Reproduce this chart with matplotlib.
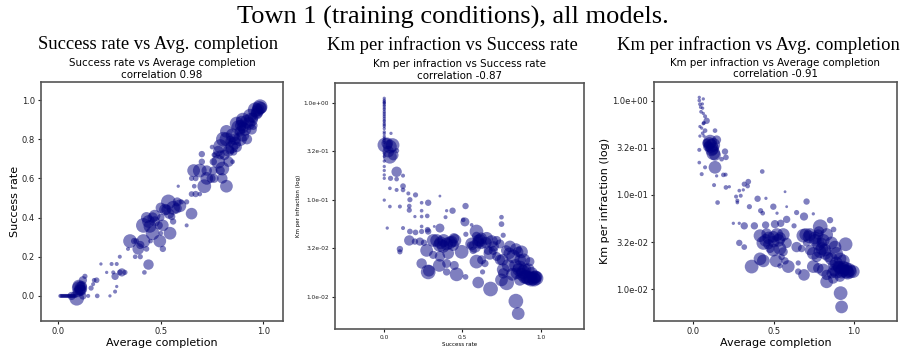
import numpy as np
import matplotlib
matplotlib.use("Agg")
import matplotlib.pyplot as plt
from matplotlib.ticker import FixedLocator, NullLocator


MAIN_TITLE = "Town 1 (training conditions), all models."
PANEL_TITLES = [
    "Success rate vs Avg. completion",
    "Km per infraction vs Success rate",
    "Km per infraction vs Avg. completion",
]
INNER_TITLES = [
    "Success rate vs Average completion\ncorrelation 0.98",
    "Km per infraction vs Success rate\ncorrelation -0.87",
    "Km per infraction vs Average completion\ncorrelation -0.91",
]

# panel 1: average completion vs success rate
p1_completion = [
    0.01, 0.02, 0.03, 0.04, 0.05, 0.06, 0.07, 0.08,
    0.015, 0.025, 0.035, 0.045, 0.055, 0.065, 0.075, 0.085,
    0.09, 0.10, 0.11, 0.105, 0.115, 0.065, 0.12, 0.13,
    0.10, 0.11, 0.095,
    0.12, 0.146, 0.16, 0.187, 0.175, 0.19, 0.17,
    0.208, 0.236, 0.26, 0.285, 0.268, 0.277, 0.30, 0.31, 0.325, 0.277, 0.252, 0.285, 0.30, 0.34,
    0.35, 0.37, 0.38, 0.39, 0.40, 0.375, 0.40, 0.43, 0.44, 0.42, 0.415, 0.45, 0.495, 0.51, 0.50,
    0.415, 0.43, 0.46, 0.47, 0.447, 0.46, 0.49, 0.51, 0.50, 0.545, 0.537, 0.528, 0.56, 0.577,
    0.52, 0.54, 0.50, 0.47, 0.44, 0.58,
    0.593, 0.553, 0.56, 0.60, 0.626, 0.65, 0.626, 0.585, 0.663, 0.65, 0.67, 0.69, 0.712,
    0.65, 0.67, 0.66, 0.69, 0.70, 0.70, 0.724, 0.724, 0.745, 0.76, 0.756, 0.79, 0.82, 0.80,
    0.78, 0.80, 0.83, 0.85, 0.756, 0.75, 0.77, 0.79, 0.79, 0.805, 0.82, 0.84, 0.846, 0.87,
    0.862, 0.886, 0.886, 0.92, 0.87, 0.894, 0.92, 0.935, 0.95, 0.91, 0.943, 0.967, 0.984,
    0.975, 0.95, 0.837, 0.855, 0.76, 0.90,
    0.82, 0.85, 0.88, 0.90, 0.93, 0.96, 0.98, 0.97, 0.94, 0.90, 0.86, 0.83, 0.81, 0.78,
    0.89, 0.99,
]
p1_success = [
    0.0, 0.0, 0.0, 0.0, 0.0, 0.0, 0.0, 0.0,
    0.0, 0.0, 0.0, 0.0, 0.0, 0.0, 0.0, 0.0,
    -0.012, 0.04, 0.04, 0.03, 0.05, 0.0, 0.08, 0.10,
    0.05, 0.03, 0.02,
    0.0, 0.0, 0.04, 0.08, 0.08, 0.0, 0.06,
    0.163, 0.12, 0.163, 0.163, 0.12, 0.10, 0.12, 0.12, 0.12, 0.022, 0.0, 0.048, 0.20, 0.24,
    0.28, 0.28, 0.28, 0.24, 0.26, 0.20, 0.20, 0.24, 0.16, 0.12, 0.28, 0.28, 0.28, 0.24, 0.32,
    0.36, 0.40, 0.40, 0.41, 0.355, 0.32, 0.36, 0.36, 0.40, 0.32, 0.48, 0.44, 0.45, 0.447,
    0.44, 0.42, 0.45, 0.38, 0.38, 0.48,
    0.46, 0.405, 0.38, 0.48, 0.48, 0.42, 0.36, 0.56, 0.56, 0.52, 0.52, 0.52, 0.56,
    0.60, 0.60, 0.64, 0.64, 0.685, 0.724, 0.64, 0.60, 0.60, 0.60, 0.64, 0.64, 0.56, 0.60,
    0.685, 0.65, 0.685, 0.685, 0.685, 0.76, 0.72, 0.72, 0.765, 0.80, 0.84, 0.79, 0.76, 0.76,
    0.80, 0.80, 0.84, 0.80, 0.88, 0.89, 0.89, 0.92, 0.91, 0.85, 0.85, 0.93, 0.966,
    0.95, 0.87, 0.745, 0.735, 0.72, 0.86,
    0.80, 0.82, 0.86, 0.90, 0.88, 0.95, 0.96, 0.94, 0.90, 0.82, 0.78, 0.74, 0.72, 0.74,
    0.87, 0.96,
]
p1_size = [
    6, 6, 6, 6, 6, 6, 6, 6,
    6, 6, 6, 6, 6, 6, 6, 6,
    80, 70, 60, 50, 40, 25, 25, 10,
    60, 50, 40,
    20, 6, 10, 12, 8, 8, 6,
    4, 4, 6, 6, 6, 20, 12, 25, 10, 6, 4, 4, 6, 6,
    70, 15, 12, 50, 25, 8, 10, 12, 40, 8, 70, 8, 60, 15, 8,
    80, 45, 40, 50, 60, 70, 25, 50, 20, 60, 80, 40, 70, 40,
    50, 40, 40, 40, 60, 30,
    60, 20, 15, 10, 10, 50, 6, 4, 8, 12, 15, 8, 70,
    10, 12, 60, 70, 15, 15, 40, 60, 30, 30, 25, 30, 60, 40,
    70, 70, 40, 8, 20, 8, 20, 30, 70, 80, 60, 40, 60, 40,
    50, 70, 40, 40, 70, 50, 70, 70, 40, 60, 40, 50, 80,
    60, 30, 30, 20, 10, 50,
    70, 70, 80, 70, 60, 80, 70, 60, 70, 60, 60, 50, 40, 40,
    50, 50,
]

# panel 2: success rate vs km per infraction
p2_success = [
    0.0, 0.0, 0.0, 0.0, 0.0, 0.0, 0.0, 0.0, 0.0, 0.0, 0.0,
    0.0, 0.0, 0.0, 0.0, 0.0, 0.0, 0.0, 0.0, 0.0, 0.0, 0.0,
    0.0, 0.0, 0.0, 0.0, 0.0, 0.0, 0.0, 0.0, 0.0, 0.0, 0.0, 0.0,
    0.004, 0.019, 0.036, 0.053, 0.026, 0.036, 0.058, 0.079, 0.043, 0.079, 0.04, 0.079,
    0.12, 0.036, 0.079, 0.12, 0.12, 0.154, 0.20, 0.10, 0.036, 0.16, 0.16, 0.164,
    0.239, 0.239, 0.281, 0.275, 0.239, 0.196, 0.356, 0.437, 0.399, 0.392, 0.52, 0.505,
    0.516, 0.559, 0.75, 0.75, 0.019, 0.12, 0.164, 0.239, 0.277, 0.32, 0.356, 0.20,
    0.239, 0.281, 0.522, 0.59, 0.59, 0.601, 0.761, 0.16, 0.196, 0.228, 0.254, 0.271,
    0.313, 0.335, 0.356, 0.377, 0.399, 0.431, 0.452, 0.409, 0.495, 0.446, 0.559, 0.58,
    0.612, 0.623, 0.655, 0.687, 0.719, 0.74, 0.665, 0.676, 0.59, 0.623, 0.644, 0.552,
    0.569, 0.239, 0.281, 0.285, 0.352, 0.399, 0.399, 0.448, 0.463, 0.52, 0.356, 0.313,
    0.10, 0.10, 0.629, 0.601, 0.68, 0.761, 0.783, 0.757, 0.793, 0.804, 0.842, 0.825,
    0.857, 0.878, 0.893, 0.868, 0.889, 0.91, 0.932, 0.953, 0.974, 0.964, 0.942, 0.921,
    0.846, 0.868, 0.932, 0.74, 0.719, 0.697, 0.75, 0.842, 0.857, 0.761,
    0.90, 0.92, 0.94, 0.96, 0.97, 0.88, 0.86, 0.90, 0.84, 0.82, 0.87, 0.80, 0.78,
    0.60, 0.62, 0.65, 0.70, 0.36, 0.38, 0.42, 0.44,
]
p2_km = [
    1.11, 1.06, 1.0, 0.95, 0.88, 0.81, 0.78, 0.75, 0.69, 0.64, 0.61,
    0.59, 0.54, 0.48, 0.45, 0.41, 0.25, 0.22, 0.20, 0.18, 0.166, 0.099,
    1.03, 0.99, 0.92, 0.85, 0.72, 0.66, 0.57, 0.50, 0.43, 0.39, 0.30, 0.28,
    0.366, 0.381, 0.352, 0.366, 0.313, 0.277, 0.288, 0.32, 0.483, 0.194, 0.166, 0.163,
    0.177, 0.131, 0.126, 0.138, 0.126, 0.116, 0.112, 0.085, 0.085, 0.086, 0.078, 0.10,
    0.093, 0.077, 0.093, 0.068, 0.067, 0.067, 0.109, 0.077, 0.077, 0.066, 0.086, 0.062,
    0.059, 0.055, 0.066, 0.056, 0.051, 0.051, 0.047, 0.053, 0.049, 0.053, 0.051, 0.046,
    0.047, 0.047, 0.044, 0.047, 0.042, 0.038, 0.043, 0.038, 0.037, 0.037, 0.036, 0.030,
    0.038, 0.038, 0.034, 0.033, 0.035, 0.037, 0.038, 0.028, 0.029, 0.040, 0.035, 0.033,
    0.038, 0.035, 0.040, 0.037, 0.038, 0.035, 0.030, 0.028, 0.023, 0.024, 0.022, 0.034,
    0.030, 0.022, 0.018, 0.0185, 0.021, 0.022, 0.018, 0.021, 0.017, 0.016, 0.026, 0.027,
    0.031, 0.029, 0.018, 0.014, 0.012, 0.019, 0.0139, 0.024, 0.021, 0.033, 0.031, 0.026,
    0.029, 0.029, 0.024, 0.020, 0.018, 0.016, 0.0155, 0.0155, 0.0155, 0.016, 0.0174, 0.019,
    0.0174, 0.0149, 0.023, 0.024, 0.026, 0.030, 0.0149, 0.009, 0.0067, 0.0174,
    0.016, 0.0155, 0.015, 0.015, 0.016, 0.017, 0.019, 0.019, 0.021, 0.017, 0.024, 0.028, 0.030,
    0.036, 0.040, 0.036, 0.033, 0.036, 0.038, 0.036, 0.034,
]
p2_size = [
    4, 4, 4, 4, 4, 4, 4, 4, 4, 4, 4,
    4, 4, 4, 4, 4, 4, 4, 4, 4, 4, 4,
    4, 4, 4, 4, 4, 4, 4, 4, 4, 4, 4, 4,
    80, 50, 70, 70, 50, 70, 40, 10, 4, 40, 10, 8,
    6, 5, 6, 12, 8, 6, 10, 6, 5, 8, 10, 10,
    5, 5, 15, 8, 5, 4, 3, 15, 4, 6, 15, 8,
    30, 5, 8, 12, 4, 6, 12, 5, 12, 3, 30, 12,
    10, 15, 10, 70, 30, 50, 10, 40, 15, 25, 15, 60,
    60, 60, 70, 60, 60, 50, 60, 50, 70, 40, 60, 60,
    60, 40, 60, 60, 30, 30, 30, 60, 70, 30, 20, 20,
    20, 40, 80, 50, 60, 30, 20, 30, 70, 12, 40, 25,
    15, 10, 10, 50, 80, 60, 80, 50, 60, 50, 50, 70,
    40, 60, 60, 70, 70, 70, 70, 70, 70, 60, 60, 60,
    50, 50, 30, 40, 30, 30, 60, 80, 60, 40,
    70, 70, 70, 70, 60, 60, 60, 60, 60, 60, 50, 50, 40,
    50, 50, 50, 40, 60, 60, 60, 50,
]

# panel 3: average completion vs km per infraction
p3_completion = [
    0.037, 0.062, 0.037, 0.041, 0.056, 0.046, 0.058, 0.048, 0.062, 0.073, 0.083, 0.066,
    0.062, 0.041, 0.052, 0.073, 0.135, 0.058, 0.041, 0.066,
    0.104, 0.124, 0.114, 0.124, 0.135, 0.145, 0.093, 0.083, 0.037, 0.037, 0.197, 0.203,
    0.176, 0.135, 0.073, 0.052, 0.145, 0.187, 0.201, 0.129, 0.203, 0.224, 0.151,
    0.11, 0.12, 0.10,
    0.429, 0.342, 0.317, 0.338, 0.286, 0.311, 0.266, 0.295, 0.274, 0.274, 0.349, 0.40,
    0.452, 0.571, 0.581, 0.419, 0.432, 0.498, 0.521, 0.581, 0.643, 0.689, 0.705, 0.747,
    0.851, 0.249, 0.286, 0.317, 0.38, 0.45, 0.508, 0.544, 0.627, 0.79, 0.873, 0.782,
    0.286, 0.317, 0.415, 0.456, 0.498, 0.529, 0.56, 0.581, 0.436, 0.467, 0.498, 0.539,
    0.56, 0.477, 0.55, 0.415, 0.436, 0.363, 0.515, 0.571, 0.539, 0.591, 0.653, 0.653,
    0.47, 0.45, 0.50, 0.52, 0.54,
    0.689, 0.685, 0.726, 0.757, 0.778, 0.809, 0.799, 0.83, 0.643, 0.674, 0.705, 0.726,
    0.747, 0.768, 0.788, 0.819, 0.84, 0.86, 0.882, 0.948, 0.892, 0.913, 0.934, 0.747,
    0.778, 0.809, 0.83, 0.861, 0.892, 0.923, 0.954, 0.975, 0.996, 0.934, 0.902, 0.871,
    0.83, 0.871, 0.913, 0.917, 0.923,
    0.93, 0.95, 0.97, 0.96, 0.91, 0.88, 0.89, 0.86, 0.82, 0.80, 0.78, 0.76, 0.72, 0.70,
]
p3_km = [
    1.08, 1.04, 1.0, 0.914, 0.92, 0.85, 0.83, 0.76, 0.73, 0.68, 0.61, 0.58,
    0.57, 0.53, 0.51, 0.48, 0.48, 0.45, 0.42, 0.42,
    0.367, 0.339, 0.30, 0.277, 0.265, 0.383, 0.325, 0.353, 0.30, 0.22, 0.288, 0.25,
    0.239, 0.196, 0.196, 0.166, 0.159, 0.163, 0.164, 0.127, 0.12, 0.122, 0.083,
    0.33, 0.31, 0.35,
    0.177, 0.138, 0.13, 0.124, 0.111, 0.113, 0.096, 0.098, 0.087, 0.083, 0.075, 0.091,
    0.092, 0.108, 0.075, 0.068, 0.064, 0.075, 0.064, 0.055, 0.065, 0.059, 0.085, 0.063,
    0.054, 0.050, 0.050, 0.047, 0.047, 0.048, 0.049, 0.050, 0.047, 0.046, 0.043, 0.041,
    0.031, 0.028, 0.037, 0.039, 0.036, 0.033, 0.038, 0.031, 0.031, 0.030, 0.026, 0.027,
    0.025, 0.027, 0.022, 0.021, 0.020, 0.0174, 0.020, 0.020, 0.0177, 0.0174, 0.019, 0.0154,
    0.035, 0.033, 0.032, 0.038, 0.035,
    0.0142, 0.037, 0.038, 0.035, 0.038, 0.033, 0.031, 0.038, 0.028, 0.027, 0.031, 0.026,
    0.024, 0.022, 0.025, 0.026, 0.022, 0.031, 0.028, 0.030, 0.024, 0.021, 0.020, 0.0174,
    0.0167, 0.016, 0.0142, 0.0148, 0.0154, 0.0154, 0.0154, 0.0154, 0.0154, 0.0174, 0.0174, 0.018,
    0.012, 0.013, 0.0136, 0.0091, 0.0065,
    0.016, 0.0165, 0.016, 0.015, 0.017, 0.016, 0.019, 0.021, 0.024, 0.027, 0.030, 0.033, 0.036, 0.038,
]
p3_size = [
    4, 4, 5, 5, 4, 5, 4, 5, 4, 6, 15, 6,
    5, 4, 4, 8, 8, 5, 4, 4,
    70, 70, 60, 70, 50, 30, 40, 30, 6, 5, 15, 12,
    8, 60, 6, 6, 4, 8, 6, 6, 8, 4, 8,
    70, 60, 60,
    8, 12, 10, 8, 5, 4, 6, 6, 6, 5, 10, 15,
    4, 3, 3, 10, 8, 15, 4, 20, 10, 25, 15, 4,
    15, 4, 4, 20, 20, 20, 25, 20, 10, 80, 12, 40,
    15, 12, 60, 40, 50, 60, 60, 40, 70, 40, 60, 60,
    30, 30, 15, 60, 60, 70, 60, 20, 10, 60, 10, 15,
    60, 60, 50, 60, 50,
    50, 70, 60, 60, 40, 60, 40, 60, 40, 20, 20, 40,
    60, 40, 60, 60, 40, 60, 60, 70, 60, 60, 60, 60,
    40, 60, 40, 40, 70, 70, 70, 70, 60, 50, 50, 40,
    60, 40, 40, 70, 60,
    70, 70, 70, 70, 60, 60, 60, 60, 60, 60, 60, 60, 60, 60,
]

LOG_TICKS = [1.0, 10 ** -0.5, 0.1, 10 ** -1.5, 0.01]

POINT_COLOR = "#000080"
SPINE_COLOR = "#555555"
SIZE_SCALE = 1.4


def style_axes(ax, tick_size, label_size, pad):
    for spine in ax.spines.values():
        spine.set_color(SPINE_COLOR)
        spine.set_linewidth(1.2)
    ax.tick_params(labelsize=tick_size, length=2.5, width=0.8,
                   colors="#222222", pad=pad)
    ax.xaxis.label.set_size(label_size)
    ax.yaxis.label.set_size(label_size)


def set_log_axis(ax):
    ax.set_yscale("log")
    ax.yaxis.set_major_locator(FixedLocator(LOG_TICKS))
    ax.yaxis.set_minor_locator(NullLocator())
    ax.set_yticklabels([f"{v:.1e}" for v in LOG_TICKS])


def bubbles(ax, x, y, size):
    ax.scatter(x, y, s=np.array(size) * SIZE_SCALE, color=POINT_COLOR,
               alpha=0.5, linewidths=0)


def main():
    fig = plt.figure(figsize=(9.06, 3.53), dpi=100)

    fig.text(0.5, 0.950, MAIN_TITLE, ha="center", va="center",
             family="Liberation Serif", fontsize=19)
    for cx, title in zip([0.174, 0.499, 0.837], PANEL_TITLES):
        fig.text(cx, 0.873, title, ha="center", va="center",
                 family="Liberation Serif", fontsize=13.4)

    # panel 1
    ax1 = fig.add_axes([0.0453, 0.0907, 0.2671, 0.677])
    bubbles(ax1, p1_completion, p1_success, p1_size)
    ax1.set_xlim(-0.084, 1.096)
    ax1.set_ylim(-0.128, 1.092)
    ax1.set_xticks([0.0, 0.5, 1.0])
    ax1.set_yticks([0.0, 0.2, 0.4, 0.6, 0.8, 1.0])
    ax1.set_xlabel("Average completion", labelpad=1)
    ax1.set_ylabel("Success rate", labelpad=1)
    ax1.set_title(INNER_TITLES[0], fontsize=7.4, pad=3)
    style_axes(ax1, 6, 8, 2)

    # panel 2
    ax2 = fig.add_axes([0.3698, 0.068, 0.2748, 0.6977])
    bubbles(ax2, p2_success, p2_km, p2_size)
    set_log_axis(ax2)
    ax2.set_xlim(-0.315, 1.278)
    ax2.set_ylim(10 ** -2.333, 10 ** 0.206)
    ax2.set_xticks([0.0, 0.5, 1.0])
    ax2.set_xlabel("Success rate", labelpad=1)
    ax2.set_ylabel("Km per infraction (log)", labelpad=2)
    ax2.set_title(INNER_TITLES[1], fontsize=7.4, pad=3)
    style_axes(ax2, 4.2, 4, 2)

    # panel 3
    ax3 = fig.add_axes([0.7222, 0.0907, 0.2675, 0.678])
    bubbles(ax3, p3_completion, p3_km, p3_size)
    set_log_axis(ax3)
    ax3.set_xlim(-0.243, 1.266)
    ax3.set_ylim(10 ** -2.336, 10 ** 0.2)
    ax3.set_xticks([0.0, 0.5, 1.0])
    ax3.set_xlabel("Average completion", labelpad=1)
    ax3.set_ylabel("Km per infraction (log)", labelpad=2)
    ax3.set_title(INNER_TITLES[2], fontsize=7.4, pad=3)
    style_axes(ax3, 6, 8, 2)

    fig.savefig("out.png", dpi=100)
    plt.close(fig)


if __name__ == "__main__":
    main()
